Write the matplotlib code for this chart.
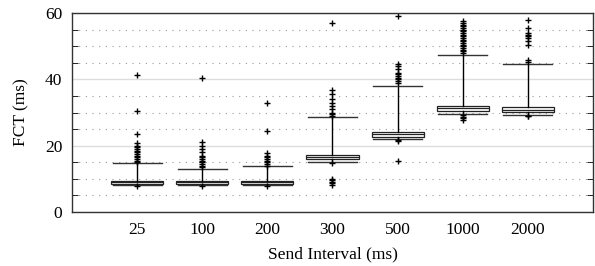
import matplotlib.pyplot as plt
from matplotlib.ticker import MultipleLocator

plt.rcParams['font.family'] = ['Liberation Serif', 'DejaVu Serif']

# send intervals (ms)
labels = ['25', '100', '200', '300', '500', '1000', '2000']

# box stats (ms)
whislo = [8.1, 8.2, 8.2, 15.0, 22.0, 29.5, 29.2]
q1 = [8.4, 8.5, 8.4, 15.9, 22.7, 30.5, 30.1]
med = [8.9, 9.0, 8.9, 16.5, 23.4, 31.3, 30.9]
q3 = [9.4, 9.4, 9.3, 17.2, 24.2, 32.0, 31.6]
whishi = [14.7, 13.0, 13.8, 28.7, 38.0, 47.3, 44.6]

outliers = [
    [7.8, 15.0, 15.5, 16.0, 16.5, 17.0, 17.5, 18.0, 18.5, 19.0, 19.5, 20.0, 20.7, 23.5, 30.5, 41.4],
    [7.9, 13.5, 14.0, 14.5, 15.0, 15.5, 16.0, 16.5, 17.0, 18.0, 19.0, 20.0, 21.0, 40.5],
    [7.9, 14.0, 14.5, 15.0, 15.5, 16.0, 16.5, 17.0, 17.7, 24.4, 33.0],
    [8.1, 8.6, 9.0, 9.5, 9.9, 14.8, 29.0, 29.5, 30.0, 31.0, 32.0, 33.0, 34.0, 35.5, 36.8, 56.9],
    [15.4, 21.8, 21.5, 39.0, 39.5, 40.0, 40.5, 41.0, 41.5, 42.0, 43.0, 44.0, 44.6, 59.2],
    [27.7, 28.2, 28.7, 29.2, 47.8, 48.5, 49.0, 49.5, 50.0, 50.5, 51.0, 51.5, 52.0,
     52.5, 53.0, 53.5, 54.0, 54.5, 55.0, 55.5, 56.0, 56.5, 57.0, 57.7],
    [28.8, 29.0, 45.2, 45.8, 50.5, 51.5, 52.5, 53.0, 53.5, 54.0, 55.5, 57.9],
]

stats = []
for i in range(len(labels)):
    stats.append({'label': labels[i], 'whislo': whislo[i], 'q1': q1[i], 'med': med[i],
                  'q3': q3[i], 'whishi': whishi[i], 'fliers': outliers[i]})

fig = plt.figure(figsize=(5.95, 2.66), dpi=100)
ax = fig.add_axes([0.121, 0.203, 0.8756, 0.748])

ax.bxp(stats, positions=range(1, len(labels) + 1), widths=0.8, showfliers=True,
       patch_artist=True,
       boxprops=dict(facecolor='white', edgecolor='#222222', linewidth=0.9),
       medianprops=dict(color='#222222', linewidth=0.9),
       whiskerprops=dict(color='black', linewidth=1.0),
       capprops=dict(color='#333333', linewidth=1.0),
       capwidths=0.75,
       flierprops=dict(marker='+', markeredgecolor='black', markersize=4.5, markeredgewidth=1.0))

ax.set_xlim(0, 8)
ax.set_ylim(0, 60)
ax.yaxis.set_major_locator(MultipleLocator(20))
ax.yaxis.set_minor_locator(MultipleLocator(5))
ax.grid(True, axis='y', which='major', color='#dddddd', linewidth=1.0)
ax.grid(True, axis='y', which='minor', color='#999999', linewidth=0.8, linestyle=(0, (1, 5)))
ax.set_axisbelow(True)

ax.tick_params(axis='y', which='both', direction='in', left=True, right=True, labelsize=12.5)
ax.tick_params(axis='y', which='major', length=0, pad=7)
ax.tick_params(axis='y', which='minor', length=4)
ax.tick_params(axis='x', length=0, labelsize=12.5, pad=7)

for s in ax.spines.values():
    s.set_color('#333333')
    s.set_linewidth(1.0)

ax.set_ylabel('FCT (ms)', fontsize=12.5, labelpad=11)
ax.set_xlabel('Send Interval (ms)', fontsize=12.5, labelpad=6)

fig.savefig('out.png', dpi=100)
